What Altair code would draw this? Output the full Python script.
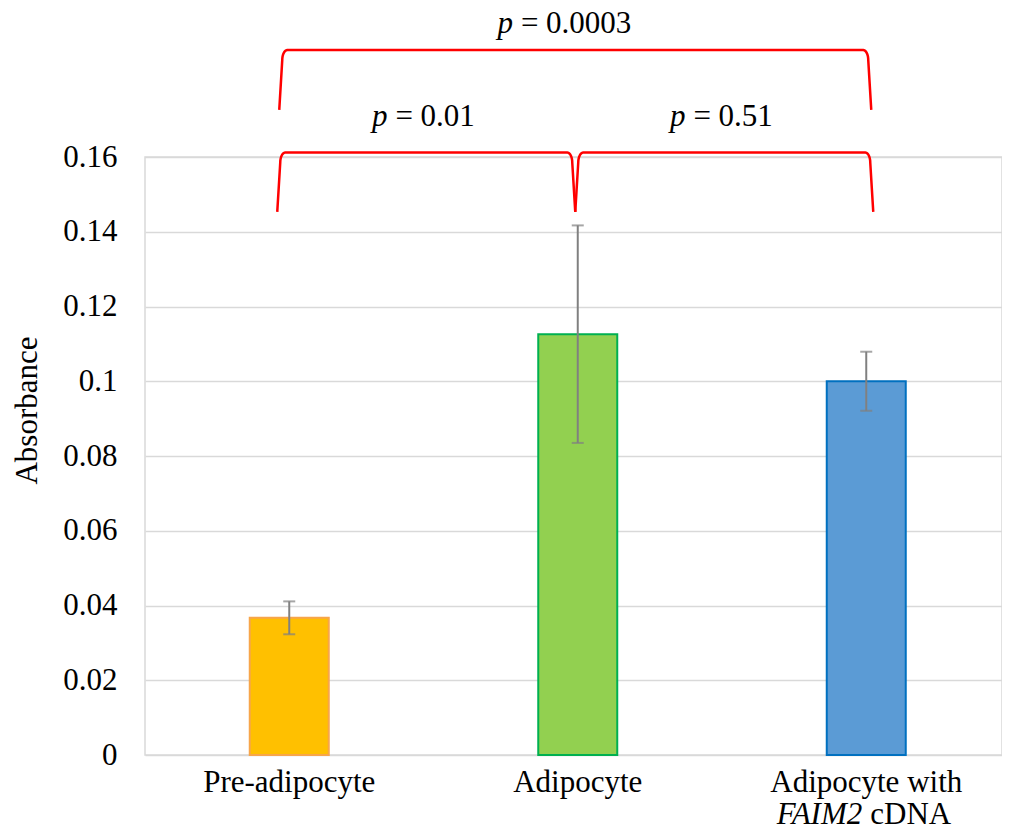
import math
import altair as alt
import pandas as pd

# ---------------- data ----------------
categories = ["Pre-adipocyte", "Adipocyte", "Adipocyte with FAIM2 cDNA"]
absorbance = [0.0367, 0.1126, 0.1000]
error = [0.0044, 0.0291, 0.0079]
label_line1 = ["Pre-adipocyte", "Adipocyte", "Adipocyte with"]
label_line2_italic = ["", "", "FAIM2"]
label_line2_normal = ["", "", "cDNA"]

bracket_from = [0, 1, 0]
bracket_to = [1, 2, 2]
bracket_top = [0.1612, 0.1612, 0.1886]
bracket_bottom = [0.1453, 0.1453, 0.1726]
p_values = ["0.01", "0.51", "0.0003"]
p_label_y = [0.1683, 0.1683, 0.1932]

y_ticks = [0, 0.02, 0.04, 0.06, 0.08, 0.10, 0.12, 0.14, 0.16]

# ---------------- styles / layout ----------------
fill_colors = ["#FFC000", "#92D050", "#5B9BD5"]
stroke_colors = ["#F7A54A", "#00B050", "#0070C0"]
FONT = "Liberation Serif"
FS = 31
SPACE = 8
W, H = 857, 598
PX_PER_X = 288.5
XMAX = W / PX_PER_X
YMAX = 0.16
PX_PER_Y = H / YMAX
BAR_HALF = 39.5 / PX_PER_X
CAP = 12


def dx(px):
    return px / PX_PER_X


def dy(px):
    return px / PX_PER_Y


# ---------------- tables ----------------
bars = pd.DataFrame({
    "category": categories,
    "pos": [i + 0.5 for i in range(len(categories))],
    "value": absorbance,
    "err": error,
    "line1": label_line1,
    "it": label_line2_italic,
    "rest": label_line2_normal,
})
bars["lo"] = bars["value"] - bars["err"]
bars["hi"] = bars["value"] + bars["err"]
bars["x0"] = bars["pos"] - BAR_HALF
bars["x1"] = bars["pos"] + BAR_HALF

# bracket end nudges (pixels) relative to category centres
end_nudge = [(-12, -2.5), (-2.5, 7), (-10, 5)]
label_nudge = [0, 0, -8]
SLANT, RX, RY = 3.0, 5.0, 10.0
rows = []
labels = []
for b in range(len(bracket_from)):
    x0 = bracket_from[b] + 0.5 + dx(end_nudge[b][0])
    x1 = bracket_to[b] + 0.5 + dx(end_nudge[b][1])
    yt, yb = bracket_top[b], bracket_bottom[b]
    pts = [(x0, yb), (x0 + dx(SLANT), yt - dy(RY))]
    n = 10
    for k in range(1, n + 1):
        phi = k / n * math.pi / 2
        pts.append((x0 + dx(SLANT + RX * (1 - math.cos(phi))), yt - dy(RY * (1 - math.sin(phi)))))
    for k in range(n, 0, -1):
        phi = k / n * math.pi / 2
        pts.append((x1 - dx(SLANT + RX * (1 - math.cos(phi))), yt - dy(RY * (1 - math.sin(phi)))))
    pts.append((x1 - dx(SLANT), yt - dy(RY)))
    pts.append((x1, yb))
    for i, (px, py) in enumerate(pts):
        rows.append({"b": b, "seq": i, "x": px, "y": py})
    mid = (x0 + x1) / 2
    rest = "= " + p_values[b]
    rest_w = (0.25 + 0.564 + 0.25 + 0.5 * (len(p_values[b]) - 1) + 0.25) * FS
    p_w = 0.5 * FS
    anchor = mid + dx(-(p_w + rest_w) / 2 + p_w) - dx(3) + dx(label_nudge[b])
    labels.append({"x": anchor, "y": p_label_y[b], "p": "p", "rest": rest})

br = pd.DataFrame(rows)
lab = pd.DataFrame(labels)

xscale = alt.Scale(domain=[0, XMAX], nice=False, zero=False)
yscale = alt.Scale(domain=[0, YMAX], nice=False)

yaxis = alt.Axis(
    values=y_ticks, format="~g", grid=True, gridColor="#D9D9D9", gridWidth=1.5,
    domain=False, ticks=False, labelFont=FONT, labelFontSize=FS, labelColor="black",
    labelPadding=28, title="Absorbance", titleFont=FONT, titleFontSize=FS,
    titleFontWeight="normal", titleColor="black", titleX=-109, titleY=253,
    titleBaseline="alphabetic", titleAngle=270,
)

base = alt.Chart(bars)

bar_layer = base.mark_bar(strokeWidth=2).encode(
    x=alt.X("x0:Q", scale=xscale, axis=None),
    x2="x1:Q",
    y=alt.Y("value:Q", scale=yscale, axis=yaxis),
    y2=alt.datum(0),
    fill=alt.Fill("category:N", scale=alt.Scale(domain=categories, range=fill_colors), legend=None),
    stroke=alt.Stroke("category:N", scale=alt.Scale(domain=categories, range=stroke_colors), legend=None),
)

err_rule = base.mark_rule(color="#808080", strokeWidth=2).encode(
    x=alt.X("pos:Q", scale=xscale),
    y=alt.Y("lo:Q", scale=yscale),
    y2="hi:Q",
)
cap_hi = base.mark_tick(color="#808080", thickness=2, size=CAP, orient="horizontal").encode(
    x=alt.X("pos:Q", scale=xscale), y=alt.Y("hi:Q", scale=yscale)
)
cap_lo = base.mark_tick(color="#808080", thickness=2, size=CAP, orient="horizontal").encode(
    x=alt.X("pos:Q", scale=xscale), y=alt.Y("lo:Q", scale=yscale)
)

xl1 = base.mark_text(font=FONT, fontSize=FS, color="black", baseline="alphabetic", align="center").encode(
    x=alt.X("pos:Q", scale=xscale), y=alt.value(H + 37), text="line1:N"
)
xl2a = base.mark_text(font=FONT, fontSize=FS, fontStyle="italic", color="black", baseline="alphabetic", align="right", dx=-SPACE / 2).encode(
    x=alt.X("pos:Q", scale=xscale), y=alt.value(H + 69), text="it:N"
)
xl2b = base.mark_text(font=FONT, fontSize=FS, color="black", baseline="alphabetic", align="left", dx=SPACE / 2).encode(
    x=alt.X("pos:Q", scale=xscale), y=alt.value(H + 69), text="rest:N"
)

brackets = alt.Chart(br).mark_line(color="#FF0000", strokeWidth=2.5).encode(
    x=alt.X("x:Q", scale=xscale),
    y=alt.Y("y:Q", scale=yscale),
    detail="b:N",
    order="seq:Q",
)

plab = alt.Chart(lab).mark_text(font=FONT, fontSize=FS, fontStyle="italic", color="black", baseline="alphabetic", align="right").encode(
    x=alt.X("x:Q", scale=xscale), y=alt.Y("y:Q", scale=yscale), text="p:N"
)
plab2 = alt.Chart(lab).mark_text(font=FONT, fontSize=FS, color="black", baseline="alphabetic", align="left", dx=SPACE).encode(
    x=alt.X("x:Q", scale=xscale), y=alt.Y("y:Q", scale=yscale), text="rest:N"
)

chart = alt.layer(
    bar_layer, err_rule, cap_hi, cap_lo, xl1, xl2a, xl2b, brackets, plab, plab2
).properties(
    width=W, height=H,
    autosize=alt.AutoSizeParams(type="none"),
    padding={"left": 137, "top": 149, "right": 0, "bottom": 72},
).configure_view(
    stroke="#D9D9D9", strokeWidth=1.5
)

chart.save("out.html", embed_options={"renderer": "svg", "actions": False})
